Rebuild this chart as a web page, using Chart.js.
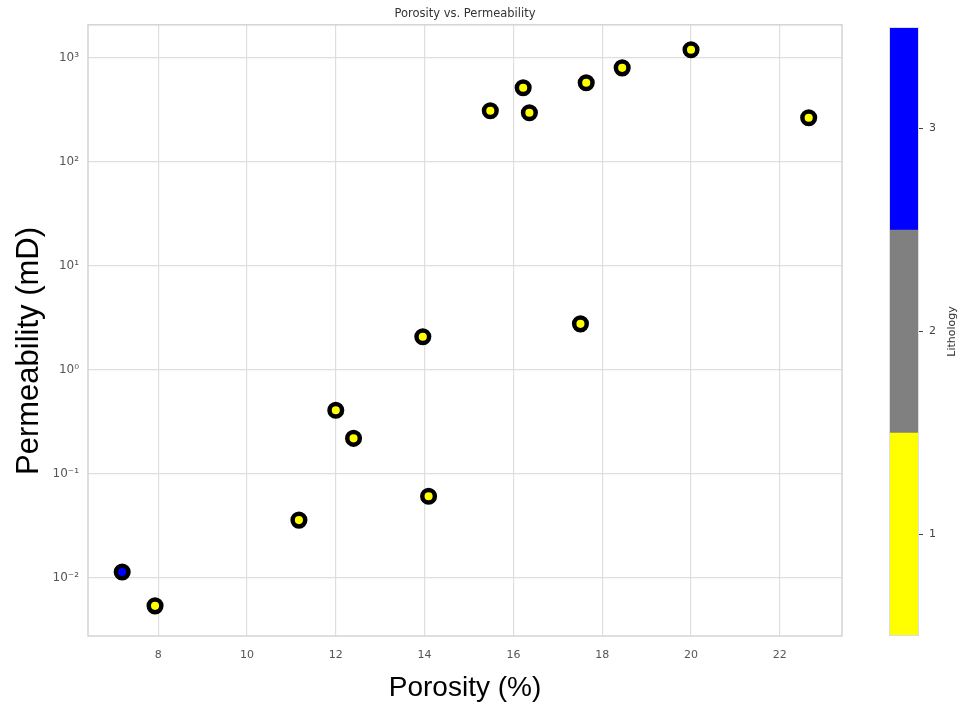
<!DOCTYPE html>
<html>
<head>
<meta charset="utf-8">
<title>Porosity vs. Permeability</title>
<script src="https://cdn.jsdelivr.net/npm/chart.js@4.4.1/dist/chart.umd.min.js"></script>
<style>
  body { margin: 0; background: #fff; }
  #wrap { position: relative; width: 960px; height: 709px; }
  #main { position: absolute; left: 0; top: 0; }
  #cbar { position: absolute; left: 889px; top: 0; }
</style>
</head>
<body>
<div id="wrap">
  <canvas id="main" width="960" height="709"></canvas>
  <canvas id="cbar" width="71" height="709"></canvas>
</div>
<script>
// data
const porosity = [7.19, 7.93, 11.17, 12.0, 12.4, 13.96, 14.09, 15.48, 16.22, 16.36, 17.51, 17.64, 18.45, 20.0, 22.65];
const permeability = [0.0114, 0.0054, 0.036, 0.41, 0.22, 2.08, 0.061, 310, 515, 296, 2.77, 575, 800, 1195, 265];
const lithology = [3, 1, 1, 1, 1, 1, 1, 1, 1, 1, 1, 1, 1, 1, 1];

const xTicks = [8, 10, 12, 14, 16, 18, 20, 22];
const yTicks = [0.01, 0.1, 1, 10, 100, 1000];
const yTickLabels = ['10\u207B\u00B2', '10\u207B\u00B9', '10\u2070', '10\u00B9', '10\u00B2', '10\u00B3'];

const lithCodes = [1, 2, 3];
const lithColors = ['#ffff00', '#808080', '#0000ff'];

const tickFont = { family: 'DejaVu Sans', size: 11 };
const gridColor = '#dedede';

// box round the plot area, like the seaborn spines
const frame = {
  id: 'frame',
  beforeDatasetsDraw(chart) {
    const a = chart.chartArea, ctx = chart.ctx;
    ctx.save();
    ctx.strokeStyle = '#d4d4d4';
    ctx.lineWidth = 1.5;
    ctx.strokeRect(a.left, a.top, a.right - a.left, a.bottom - a.top);
    ctx.restore();
  }
};

// y axis label, drawn a bit below centre as in the picture
const yLabel = {
  id: 'yLabel',
  afterDraw(chart) {
    const ctx = chart.ctx;
    ctx.save();
    ctx.translate(29, 351);
    ctx.rotate(-Math.PI / 2);
    ctx.font = '31px "Liberation Sans", Arial, sans-serif';
    ctx.fillStyle = '#000';
    ctx.textAlign = 'center';
    ctx.textBaseline = 'middle';
    ctx.fillText('Permeability (mD)', 0, 0);
    ctx.restore();
  }
};

const points = porosity.map((p, i) => ({ x: p, y: permeability[i] }));

new Chart(document.getElementById('main'), {
  type: 'scatter',
  data: {
    datasets: [{
      data: points,
      backgroundColor: lithology.map(l => lithColors[lithCodes.indexOf(l)]),
      borderColor: '#000',
      borderWidth: 4.5,
      pointRadius: 6.3,
      pointHoverRadius: 6.3
    }]
  },
  options: {
    responsive: false,
    animation: false,
    devicePixelRatio: 1,
    layout: { padding: { top: 0, right: 118, bottom: 0, left: 0 } },
    plugins: {
      legend: { display: false },
      tooltip: { enabled: false },
      title: {
        display: true,
        text: 'Porosity vs. Permeability',
        fullSize: false,
        color: '#333',
        font: { family: 'DejaVu Sans', size: 11.5, weight: 'normal' },
        padding: { top: 7, bottom: 4 }
      }
    },
    scales: {
      x: {
        type: 'linear',
        min: 6.42,
        max: 23.4,
        afterBuildTicks: s => { s.ticks = xTicks.map(v => ({ value: v })); },
        afterFit: s => { s.height = 73; },
        grid: { color: gridColor, lineWidth: 1.2, drawTicks: false },
        border: { display: false },
        ticks: { color: '#555', font: tickFont, padding: 13 },
        title: {
          display: true,
          text: 'Porosity (%)',
          color: '#000',
          font: { family: 'Liberation Sans', size: 28 },
          padding: { top: 0, bottom: 4 }
        }
      },
      y: {
        type: 'logarithmic',
        min: 0.00277,
        max: 2075,
        afterBuildTicks: s => { s.ticks = yTicks.map(v => ({ value: v })); },
        afterFit: s => { s.width = 88; },
        grid: { color: gridColor, lineWidth: 1.2, drawTicks: false },
        border: { display: false },
        ticks: {
          color: '#555',
          font: { family: 'DejaVu Sans', size: 12 },
          padding: 9,
          callback: v => yTickLabels[yTicks.indexOf(v)]
        }
      }
    }
  },
  plugins: [frame, yLabel]
});

// colorbar: three floating bars on one category, with a right hand scale
const cbFrame = {
  id: 'cbFrame',
  afterDatasetsDraw(chart) {
    const a = chart.chartArea, ctx = chart.ctx;
    ctx.save();
    ctx.strokeStyle = '#dddddd';
    ctx.lineWidth = 1;
    ctx.strokeRect(a.left + 0.5, a.top + 0.5, a.right - a.left - 1, a.bottom - a.top - 1);
    const y = chart.scales.y;
    ctx.translate(63, (y.top + y.bottom) / 2);
    ctx.rotate(-Math.PI / 2);
    ctx.font = '11px "DejaVu Sans"';
    ctx.fillStyle = '#333';
    ctx.textAlign = 'center';
    ctx.textBaseline = 'middle';
    ctx.fillText('Lithology', 0, 0);
    ctx.restore();
  }
};

new Chart(document.getElementById('cbar'), {
  type: 'bar',
  data: {
    labels: [''],
    datasets: lithCodes.map((c, i) => ({
      data: [[c - 0.5, c + 0.5]],
      backgroundColor: lithColors[i],
      borderWidth: 0,
      barPercentage: 1,
      categoryPercentage: 1,
      grouped: false
    }))
  },
  options: {
    responsive: false,
    animation: false,
    devicePixelRatio: 1,
    layout: { padding: { top: 27, right: 0, bottom: 73, left: 0 } },
    plugins: { legend: { display: false }, tooltip: { enabled: false } },
    scales: {
      x: { display: false },
      y: {
        position: 'right',
        min: 0.5,
        max: 3.5,
        afterBuildTicks: s => { s.ticks = lithCodes.map(v => ({ value: v })); },
        afterFit: s => { s.width = 41; },
        grid: { drawOnChartArea: false, drawTicks: true, tickLength: 4, color: '#444', tickColor: '#444' },
        border: { display: false },
        ticks: { color: '#444', font: tickFont, padding: 6 }
      }
    }
  },
  plugins: [cbFrame]
});
</script>
</body>
</html>
